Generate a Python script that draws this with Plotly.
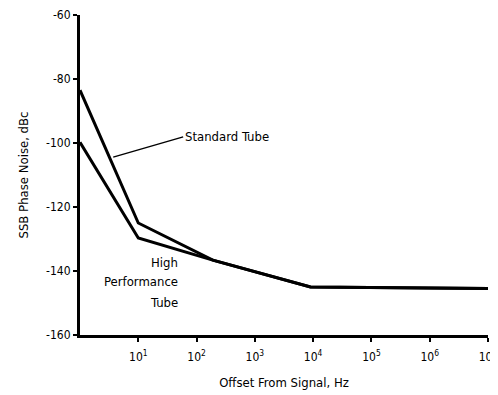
import plotly.graph_objects as go

# offset frequency (Hz) and SSB phase noise (dBc)
std_freq = [1, 10, 190, 9000, 1e7]
std_noise = [-83.5, -125, -136.6, -145, -145.5]

hp_freq = [1, 10, 190, 9000, 1e7]
hp_noise = [-99.8, -129.7, -136.6, -145, -145.5]

x_ticks = [10, 100, 1e3, 1e4, 1e5, 1e6, 1e7]
x_labels = ["10<sup>%d</sup>" % i for i in range(1, 8)]
y_ticks = [-60, -80, -100, -120, -140, -160]

FONT = "DejaVu Sans Condensed, sans-serif"

fig = go.Figure()
fig.add_trace(go.Scatter(x=std_freq, y=std_noise, mode="lines",
                         line=dict(color="black", width=3), name="Standard Tube"))
fig.add_trace(go.Scatter(x=hp_freq, y=hp_noise, mode="lines",
                         line=dict(color="black", width=3), name="High Performance Tube"))

# label for standard tube with a pointer (log axis -> log10 coords)
fig.add_annotation(x=0.57, y=-104.4, ax=1.77, ay=-98.1, xref="x", yref="y",
                   axref="x", ayref="y", text="Standard Tube", showarrow=True,
                   arrowhead=0, arrowwidth=1.4, arrowcolor="black",
                   xanchor="left", font=dict(size=13, family=FONT, color="black"))
for txt, yy in [("High", -137.2), ("Performance", -143.4), ("Tube", -149.7)]:
    fig.add_annotation(x=1.72, y=yy, xref="x", yref="y", showarrow=False,
                       text=txt, xanchor="right",
                       font=dict(size=13, family=FONT, color="black"))

fig.update_layout(
    width=490, height=387,
    margin=dict(l=72, r=10, t=7, b=60),
    plot_bgcolor="white", paper_bgcolor="white",
    showlegend=False,
    font=dict(family=FONT, color="black", size=12),
)
fig.update_xaxes(type="log", range=[0, 7], tickvals=x_ticks, ticktext=x_labels,
                 automargin=False, ticklabelstandoff=5,
                 showgrid=False, zeroline=False, showline=True, linecolor="black",
                 linewidth=3, ticks="outside", ticklen=4, tickwidth=2, tickcolor="black",
                 title=dict(text="Offset From Signal, Hz", font=dict(size=13, family=FONT)))
fig.update_yaxes(range=[-160, -60], tickvals=y_ticks,
                 ticktext=[str(v) for v in y_ticks], automargin=False,
                 showgrid=False, zeroline=False, showline=True, linecolor="black",
                 linewidth=3, ticks="outside", ticklen=4, tickwidth=2, tickcolor="black",
                 title=dict(text="SSB Phase Noise, dBc", font=dict(size=13, family=FONT)))

fig.write_html("out.html")
